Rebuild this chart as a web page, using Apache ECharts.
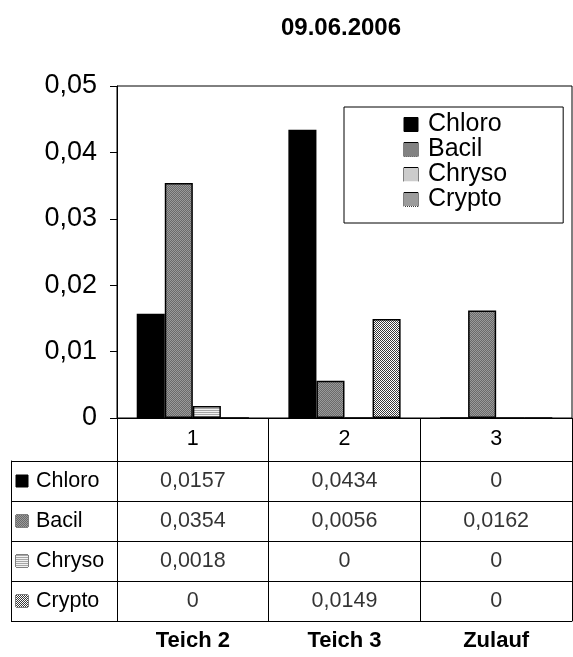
<!DOCTYPE html>
<html>
<head>
<meta charset="utf-8">
<script src="https://cdn.jsdelivr.net/npm/echarts@6/dist/echarts.min.js"></script>
<style>html,body{margin:0;padding:0;background:#fff}#c{width:573px;height:657px}</style>
</head>
<body>
<div id="c"></div>
<script>
// ---- data ----
var titleText = '09.06.2006';
var categories = ['1', '2', '3'];
var sites = ['Teich 2', 'Teich 3', 'Zulauf'];
var seriesNames = ['Chloro', 'Bacil', 'Chryso', 'Crypto'];
var chloroVals = [0.0157, 0.0434, 0];
var bacilVals = [0.0354, 0.0056, 0.0162];
var chrysoVals = [0.0018, 0, 0];
var cryptoVals = [0, 0.0149, 0];
var yMin = 0, yMax = 0.05, yInterval = 0.01;

var seriesValues = [chloroVals, bacilVals, chrysoVals, cryptoVals];

// ---- patterns ----
function pat(w, h, draw) {
  var c = document.createElement('canvas');
  c.width = w; c.height = h;
  var g = c.getContext('2d');
  draw(g);
  return c;
}
var pSolid = pat(2, 2, function (g) { g.fillStyle = '#000'; g.fillRect(0, 0, 2, 2); });
var pBacil = pat(4, 4, function (g) {
  g.fillStyle = '#9a9a9a'; g.fillRect(0, 0, 4, 4);
  g.fillStyle = '#6a6a6a';
  for (var i = 0; i < 4; i++) { g.fillRect(i, (3 - i) % 4, 1, 1); g.fillRect(i, (5 - i) % 4, 1, 1); }
});
var pChryso = pat(2, 2, function (g) {
  g.fillStyle = '#f2f2f2'; g.fillRect(0, 0, 2, 2);
  g.fillStyle = '#a6a6a6'; g.fillRect(0, 0, 2, 1);
});
var pCrypto = pat(2, 2, function (g) {
  g.fillStyle = '#ffffff'; g.fillRect(0, 0, 2, 2);
  g.fillStyle = '#3a3a3a'; g.fillRect(0, 0, 1, 1); g.fillRect(1, 1, 1, 1);
});
var patterns = [pSolid, pBacil, pChryso, pCrypto];
var fills = ['#000000', {image: pBacil, repeat: 'repeat'}, {image: pChryso, repeat: 'repeat'}, {image: pCrypto, repeat: 'repeat'}];

// key swatch canvases (pattern tiled at swatch size)
function swatch(p, size) {
  return pat(size, size, function (g) {
    g.fillStyle = g.createPattern(p, 'repeat');
    g.fillRect(0, 0, size, size);
  });
}

var FONT = 'Liberation Sans, Arial, sans-serif';

function fmt(v) {
  if (v === 0) return '0';
  return String(v).replace('.', ',');
}

var barSeries = seriesNames.map(function (n, i) {
  return {
    name: n,
    type: 'bar',
    xAxisIndex: 0,
    yAxisIndex: 0,
    data: seriesValues[i],
    barGap: '0%',
    barCategoryGap: '26%',
    itemStyle: {color: fills[i], borderColor: '#000', borderWidth: 1.5},
    emphasis: {disabled: true}
  };
});

var cellData = [];
seriesValues.forEach(function (arr, r) {
  arr.forEach(function (v, c) { cellData.push([c, r, v]); });
});

var tableRich = {t: {fontSize: 21.5, fontFamily: FONT, color: '#000', padding: [0, 0, 0, 8]}};
var legendRich = {t: {fontSize: 25, fontFamily: FONT, color: '#000', padding: [0, 0, 0, 10], lineHeight: 23.3}};
seriesNames.forEach(function (n, i) {
  tableRich['k' + i] = {width: 12, height: 12, backgroundColor: {image: swatch(patterns[i], 12)}, borderColor: '#000', borderWidth: 1};
  legendRich['k' + i] = {width: 14, height: 14, backgroundColor: {image: swatch(patterns[i], 14)}, borderColor: '#000', borderWidth: 1};
});

var option = {
  animation: false,
  backgroundColor: '#fff',
  title: {
    text: titleText,
    left: 336, top: 11, textAlign: 'center',
    textStyle: {fontFamily: FONT, fontWeight: 'bold', fontSize: 24, color: '#000'}
  },
  legend: {
    data: seriesNames,
    orient: 'vertical',
    left: 344, top: 107,
    padding: [5, 56, 11, 54],
    icon: 'rect',
    itemWidth: 0, itemHeight: 0, itemGap: 0,
    backgroundColor: '#fff', borderColor: '#000', borderWidth: 1,
    itemStyle: {opacity: 0},
    formatter: function (name) { return '{k' + seriesNames.indexOf(name) + '|}{t|' + name + '}'; },
    textStyle: {fontFamily: FONT, fontSize: 25, color: '#000', lineHeight: 23.3, rich: legendRich},
    selectedMode: false
  },
  grid: [
    {left: 117, right: 1, top: 86, bottom: 239, show: true, borderColor: '#000', borderWidth: 1, backgroundColor: 'transparent'},
    {left: 117, right: 1, top: 461, bottom: 36, show: false}
  ],
  xAxis: [
    {
      type: 'category', gridIndex: 0, data: categories,
      axisLine: {show: true, lineStyle: {color: '#000', width: 1}},
      axisTick: {show: true, length: 43, lineStyle: {color: '#000', width: 1}},
      axisLabel: {fontFamily: FONT, fontSize: 21.5, color: '#000', margin: 10},
      splitLine: {show: false}
    },
    {
      type: 'category', gridIndex: 1, data: sites, position: 'bottom',
      axisLine: {show: true, lineStyle: {color: '#000', width: 1}},
      axisTick: {show: false},
      axisLabel: {fontFamily: FONT, fontSize: 22, fontWeight: 'bold', color: '#000', margin: 9},
      splitLine: {show: true, lineStyle: {color: '#000', width: 1}}
    }
  ],
  yAxis: [
    {
      type: 'value', gridIndex: 0, min: yMin, max: yMax, interval: yInterval,
      axisLine: {show: true, lineStyle: {color: '#000', width: 1}},
      axisTick: {show: true, length: 7, lineStyle: {color: '#000', width: 1}},
      axisLabel: {fontFamily: FONT, fontSize: 27, color: '#000', margin: 20,
        formatter: function (v) { return v === 0 ? '0' : v.toFixed(2).replace('.', ','); }},
      splitLine: {show: false}
    },
    {
      type: 'category', gridIndex: 1, data: seriesNames, inverse: true,
      axisLine: {show: true, lineStyle: {color: '#000', width: 1}},
      axisTick: {show: true, length: 106, lineStyle: {color: '#000', width: 1}},
      axisLabel: {align: 'left', margin: 101,
        formatter: function (v, i) { return '{k' + i + '|}{t|' + v + '}'; },
        rich: tableRich},
      splitLine: {show: true, lineStyle: {color: '#000', width: 1}}
    },
    {
      type: 'category', gridIndex: 1, data: seriesNames, inverse: true, position: 'left', offset: 106,
      axisLine: {show: true, lineStyle: {color: '#000', width: 1}},
      axisTick: {show: false}, axisLabel: {show: false}, splitLine: {show: false}
    }
  ],
  series: barSeries.concat([{
    type: 'scatter',
    xAxisIndex: 1, yAxisIndex: 1,
    data: cellData,
    symbolSize: 1,
    itemStyle: {color: 'rgba(0,0,0,0)'},
    silent: true,
    label: {show: true, position: 'inside', fontFamily: FONT, fontSize: 21.5, color: '#000',
      formatter: function (p) { return fmt(p.value[2]); }}
  }])
};

var chart = echarts.init(document.getElementById('c'), null, {renderer: 'canvas'});
chart.setOption(option);
</script>
</body>
</html>
